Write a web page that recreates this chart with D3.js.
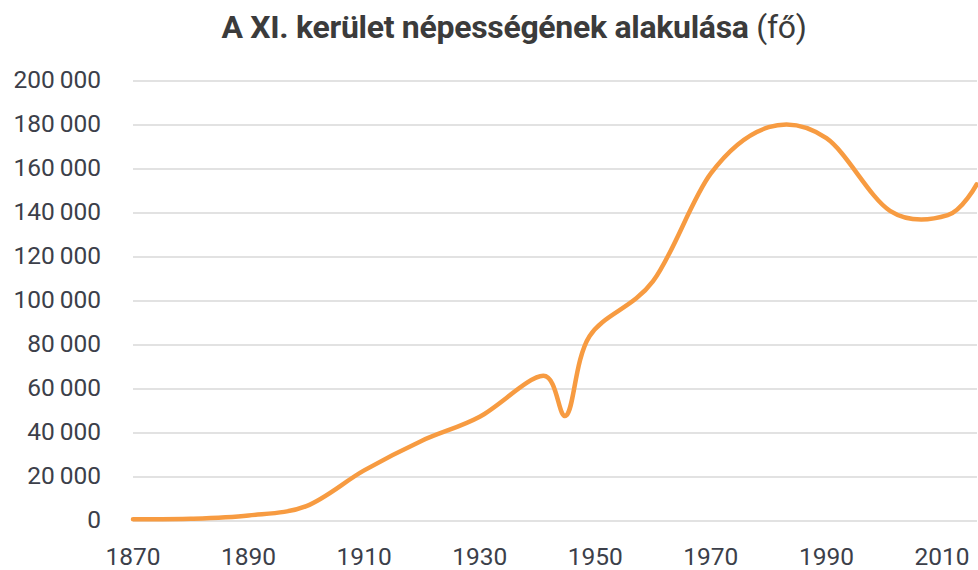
<!DOCTYPE html>
<html>
<head>
<meta charset="utf-8">
<script src="https://cdn.jsdelivr.net/npm/d3@7"></script>
<style>
  body { margin: 0; background: #fff; }
  text { font-family: Roboto, "Noto Sans", sans-serif; }
</style>
</head>
<body>
<div id="canvas"></div>
<script>
"use strict"

/* Data */
let years = [1870, 1880, 1890, 1900, 1910, 1920, 1930, 1941, 1945, 1949, 1960, 1970, 1980, 1990, 2001, 2011, 2016];
let population = [800, 1000, 2500, 6800, 23000, 36500, 47400, 66000, 48000, 84000, 109000, 158000, 179000, 174000, 141000, 139000, 153000];
let yTicks = [0, 20000, 40000, 60000, 80000, 100000, 120000, 140000, 160000, 180000, 200000];
let xTicks = [1870, 1890, 1910, 1930, 1950, 1970, 1990, 2010];

/* Drawing config */
let svgWidth = 978;
let svgHeight = 570;

let svg = d3.select("#canvas")
    .append("svg")
    .attr("width", svgWidth)
    .attr("height", svgHeight);

let xScale = d3.scaleLinear()
    .domain([1870, 2010])
    .range([133, 942]);

let yScale = d3.scaleLinear()
    .domain([0, 200000])
    .range([521, 81]);

// Hungarian style: thin gap as thousands separator
let huFormat = d3.formatLocale({ decimal: ",", thousands: "\u2009", grouping: [3], currency: ["", " Ft"] }).format(",d");

/* Title */
let title = svg.append("text")
    .attr("x", 514)
    .attr("y", 38)
    .attr("text-anchor", "middle")
    .attr("fill", "#3b3b3b")
    .style("font-size", "32px")
    .style("letter-spacing", "-0.3px");
title.append("tspan")
    .style("font-weight", "bold")
    .text("A XI. kerület népességének alakulása ");
title.append("tspan")
    .text("(fő)");

/* Grid lines */
svg.append("g")
    .selectAll("line")
    .data(yTicks)
    .join("line")
    .attr("x1", 133)
    .attr("x2", 977)
    .attr("y1", d => yScale(d))
    .attr("y2", d => yScale(d))
    .attr("stroke", "#d9d9d9")
    .attr("stroke-width", 1.5);

/* Y labels */
svg.append("g")
    .selectAll("text")
    .data(yTicks)
    .join("text")
    .attr("x", 101)
    .attr("y", d => yScale(d) - 2)
    .attr("dy", "0.36em")
    .attr("text-anchor", "end")
    .attr("fill", "#3c3f4a")
    .style("font-size", "24.5px")
    .text(d => huFormat(d));

/* X labels */
svg.append("g")
    .selectAll("text")
    .data(xTicks)
    .join("text")
    .attr("x", d => xScale(d))
    .attr("y", 565)
    .attr("text-anchor", "middle")
    .attr("fill", "#3c3f4a")
    .style("font-size", "24.5px")
    .text(d => d);

/* Population line */
let line = d3.line()
    .x((d, i) => xScale(years[i]))
    .y(d => yScale(d))
    .curve(d3.curveCardinal.tension(0));

svg.append("path")
    .attr("d", line(population))
    .attr("fill", "none")
    .attr("stroke", "#f79b41")
    .attr("stroke-width", 4.5)
    .attr("stroke-linecap", "round");
</script>
</body>
</html>
